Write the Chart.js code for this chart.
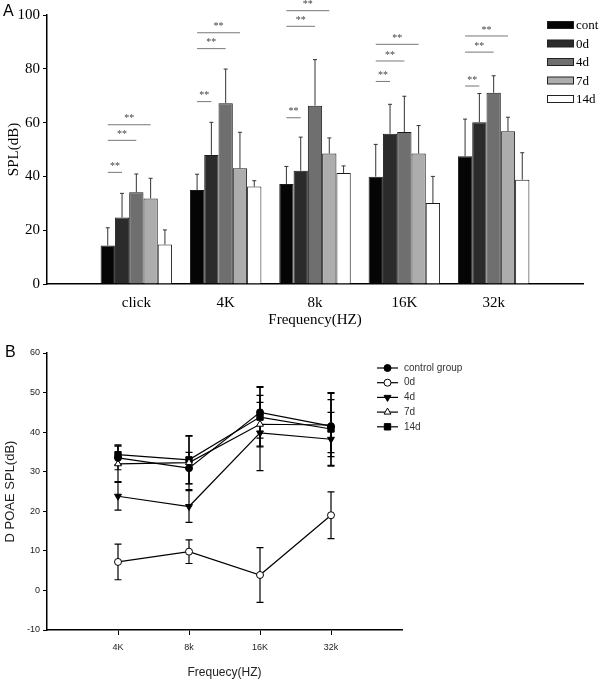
<!DOCTYPE html>
<html>
<head>
<meta charset="utf-8">
<script src="https://cdn.jsdelivr.net/npm/chart.js@4.4.0/dist/chart.umd.min.js"></script>
<style>
  body { margin: 0; background: #fff; width: 600px; height: 689px; position: relative; overflow: hidden; }
  .panel { position: absolute; left: 0; width: 600px; }
  #boxA { top: 0; height: 335px; }
  #boxB { top: 335px; height: 354px; }
  .tag { position: absolute; font: 16px Arial, sans-serif; line-height: 16px; color: #000; }
</style>
</head>
<body>
<div class="panel" id="boxA"><canvas id="chartA"></canvas></div>
<div class="panel" id="boxB"><canvas id="chartB"></canvas></div>
<div class="tag" style="left:3px;top:3px">A</div>
<div class="tag" style="left:5px;top:344px">B</div>
<script>
// ---- panel A: bar chart, SPL(dB) ----
const freqA = ['click', '4K', '8k', '16K', '32k'];
const groupsA = ['cont', '0d', '4d', '7d', '14d'];
const contA = [14.3, 34.9, 37.2, 39.9, 47.5];
const d0A   = [24.7, 48.0, 42.1, 55.9, 60.1];
const d4A   = [34.1, 67.2, 66.3, 56.5, 71.1];
const d7A   = [31.8, 43.0, 48.5, 48.5, 56.8];
const d14A  = [14.7, 36.2, 41.3, 30.1, 38.8];
// upper error bars
const contSdA = [6.6, 5.9, 6.5, 12.0, 13.8];
const d0SdA   = [9.0, 12.1, 12.5, 10.9, 10.7];
const d4SdA   = [6.8, 12.7, 17.1, 13.3, 6.3];
const d7SdA   = [7.5, 13.4, 5.8, 10.4, 5.2];
const d14SdA  = [5.4, 2.2, 2.6, 9.9, 10.0];
// ** lines: cont vs 0d, 4d, 7d (height in dB)
const sigA = [[41.5, 53.4, 59.2], [67.8, 87.5, 93.4], [61.8, 95.8, 101.6], [75.3, 82.9, 89.1], [73.6, 86.2, 92.2]];

// ---- panel B: line chart, DPOAE ----
const freqB = ['4K', '8k', '16K', '32k'];
const groupsB = ['control group', '0d', '4d', '7d', '14d'];
const ctrlB = [33.5, 30.9, 45.0, 41.5];
const d0B   = [7.2, 9.8, 3.9, 19.0];
const d4B   = [23.8, 21.2, 39.8, 38.2];
const d7B   = [32.0, 32.3, 42.0, 41.8];
const d14B  = [34.3, 33.0, 43.8, 40.8];
const ctrlSdB = [3.0, 4.0, 6.5, 6.7];
const d0SdB   = [4.5, 3.0, 6.9, 5.9];
const d4SdB   = [3.5, 4.0, 9.5, 6.8];
const d7SdB   = [4.5, 6.8, 5.5, 8.0];
const d14SdB  = [2.5, 6.0, 7.5, 9.2];

const padEnds = arr => [null, ...arr, null];
const serif = 'Liberation Serif, Times New Roman, serif';
const sans = 'Arial, Liberation Sans, sans-serif';

// chart A
const seriesA = [contA, d0A, d4A, d7A, d14A];
const sdA = [contSdA, d0SdA, d4SdA, d7SdA, d14SdA];
const colorsA = ['#050505', '#2b2b2b', '#6f6f6f', '#adadad', '#ffffff'];

const errorBarsA = {
  id: 'errorBarsA',
  afterDatasetsDraw(chart) {
    const {ctx, scales: {y}} = chart;
    ctx.save();
    ctx.strokeStyle = '#333';
    ctx.lineWidth = 1;
    chart.data.datasets.forEach((ds, k) => {
      chart.getDatasetMeta(k).data.forEach((bar, i) => {
        if (ds.data[i] == null) return;
        const top = y.getPixelForValue(ds.data[i] + ds.sd[i]);
        ctx.beginPath();
        ctx.moveTo(bar.x, bar.y);
        ctx.lineTo(bar.x, top);
        ctx.moveTo(bar.x - 2, top);
        ctx.lineTo(bar.x + 2, top);
        ctx.stroke();
      });
    });
    // significance lines
    ctx.strokeStyle = '#777';
    ctx.fillStyle = '#444';
    ctx.font = '10px ' + serif;
    ctx.textAlign = 'center';
    ctx.textBaseline = 'bottom';
    sigA.forEach((levels, i) => {
      const x0 = chart.getDatasetMeta(0).data[i + 1].x;
      levels.forEach((v, j) => {
        const x1 = chart.getDatasetMeta(j + 1).data[i + 1].x;
        const yy = y.getPixelForValue(v);
        ctx.beginPath();
        ctx.moveTo(x0, yy);
        ctx.lineTo(x1, yy);
        ctx.stroke();
        ctx.fillText('**', (x0 + x1) / 2, yy - 1);
      });
    });
    ctx.restore();
  },
  afterDraw(chart) {
    // legend
    const {ctx} = chart;
    ctx.save();
    ctx.font = '13px ' + serif;
    ctx.textBaseline = 'middle';
    ctx.textAlign = 'left';
    groupsA.forEach((g, k) => {
      const yy = 25 + k * 18.5;
      ctx.fillStyle = colorsA[k];
      ctx.fillRect(547, yy - 3.5, 26, 7);
      ctx.strokeStyle = '#222';
      ctx.lineWidth = 1;
      ctx.strokeRect(547.5, yy - 3.5, 26, 7);
      ctx.fillStyle = '#000';
      ctx.fillText(g, 576, yy + 1);
    });
    ctx.restore();
  }
};

new Chart(document.getElementById('chartA'), {
  type: 'bar',
  data: {
    labels: padEnds(freqA).map(l => l || ''),
    datasets: groupsA.map((g, k) => ({
      label: g,
      data: padEnds(seriesA[k]),
      sd: padEnds(sdA[k]),
      backgroundColor: colorsA[k],
      borderColor: '#1a1a1a',
      borderWidth: 1,
      categoryPercentage: 0.8,
      barPercentage: 1
    }))
  },
  options: {
    responsive: true,
    maintainAspectRatio: false,
    animation: false,
    layout: { padding: { top: 15, right: 17, left: 0, bottom: 0 } },
    plugins: { legend: { display: false }, tooltip: { enabled: false } },
    scales: {
      x: {
        offset: false,
        grid: { display: false, drawTicks: false },
        border: { color: '#000', width: 1.5 },
        ticks: { color: '#000', font: { family: serif, size: 15 }, padding: 10, autoSkip: false, maxRotation: 0 },
        title: { display: true, text: 'Frequency(HZ)', color: '#000', font: { family: serif, size: 15 }, padding: { top: 0, bottom: 6 } },
        afterFit: s => { s.height = 51; }
      },
      y: {
        min: 0, max: 100,
        ticks: { stepSize: 20, color: '#000', font: { family: serif, size: 15 }, padding: 3 },
        grid: { drawOnChartArea: false, drawTicks: true, tickLength: 4, color: '#000' },
        border: { color: '#000', width: 1.5 },
        title: { display: true, text: 'SPL(dB)', color: '#000', font: { family: serif, size: 15 }, padding: { top: 5, bottom: 0 } },
        afterFit: s => { s.width = 47; }
      }
    }
  },
  plugins: [errorBarsA]
});

// chart B
const seriesB = [ctrlB, d0B, d4B, d7B, d14B];
const sdB = [ctrlSdB, d0SdB, d4SdB, d7SdB, d14SdB];
const markB = [
  { style: 'circle', fill: '#000', rot: 0, r: 3.5 },
  { style: 'circle', fill: '#fff', rot: 0, r: 3.5 },
  { style: 'triangle', fill: '#000', rot: 180, r: 4 },
  { style: 'triangle', fill: '#fff', rot: 0, r: 4 },
  { style: 'rect', fill: '#000', rot: 0, r: 4.5 }
];
const labelsB = padEnds(freqB).map(l => l || '');

const errorBarsB = {
  id: 'errorBarsB',
  beforeDatasetsDraw(chart) {
    const {ctx, scales: {y}} = chart;
    ctx.save();
    ctx.strokeStyle = '#000';
    ctx.lineWidth = 1.2;
    chart.data.datasets.forEach((ds, k) => {
      chart.getDatasetMeta(k).data.forEach((pt, i) => {
        if (ds.data[i] == null) return;
        const hi = y.getPixelForValue(ds.data[i] + ds.sd[i]);
        const lo = y.getPixelForValue(ds.data[i] - ds.sd[i]);
        ctx.beginPath();
        ctx.moveTo(pt.x, hi); ctx.lineTo(pt.x, lo);
        ctx.moveTo(pt.x - 3.5, hi); ctx.lineTo(pt.x + 3.5, hi);
        ctx.moveTo(pt.x - 3.5, lo); ctx.lineTo(pt.x + 3.5, lo);
        ctx.stroke();
      });
    });
    ctx.restore();
  },
  afterDraw(chart) {
    const {ctx} = chart;
    ctx.save();
    ctx.font = '10px ' + sans;
    ctx.textBaseline = 'middle';
    groupsB.forEach((g, k) => {
      const yy = 33 + k * 14.7;
      ctx.strokeStyle = '#000';
      ctx.lineWidth = 1.2;
      ctx.beginPath();
      ctx.moveTo(377, yy); ctx.lineTo(398, yy);
      ctx.stroke();
      ctx.fillStyle = markB[k].fill;
      ctx.lineWidth = 1;
      Chart.helpers.drawPoint(ctx, { pointStyle: markB[k].style, radius: markB[k].r, rotation: markB[k].rot, borderWidth: 1 }, 387.5, yy);
      ctx.fillStyle = '#333';
      ctx.fillText(g, 404, yy);
    });
    ctx.restore();
  }
};

new Chart(document.getElementById('chartB'), {
  type: 'line',
  data: {
    labels: labelsB,
    datasets: groupsB.map((g, k) => ({
      label: g,
      data: padEnds(seriesB[k]),
      sd: padEnds(sdB[k]),
      borderColor: '#000',
      borderWidth: 1.2,
      fill: false,
      tension: 0,
      pointStyle: markB[k].style,
      pointRotation: markB[k].rot,
      pointRadius: markB[k].r,
      pointBackgroundColor: markB[k].fill,
      pointBorderColor: '#000',
      pointBorderWidth: 1
    }))
  },
  options: {
    responsive: true,
    maintainAspectRatio: false,
    animation: false,
    layout: { padding: { top: 18, right: 198, left: 0, bottom: 0 } },
    plugins: { legend: { display: false }, tooltip: { enabled: false } },
    scales: {
      x: {
        offset: false,
        grid: {
          drawOnChartArea: false, drawTicks: true, tickLength: 5,
          color: c => (c.index === 0 || c.index === labelsB.length - 1) ? 'rgba(0,0,0,0)' : '#000'
        },
        border: { color: '#000', width: 1.5 },
        ticks: { color: '#222', font: { family: sans, size: 9 }, padding: 7, autoSkip: false, maxRotation: 0 },
        title: { display: true, text: 'Frequecy(HZ)', color: '#222', font: { family: sans, size: 12 }, padding: { top: 0, bottom: 9 } },
        afterFit: s => { s.height = 59; }
      },
      y: {
        min: -10, max: 60,
        ticks: { stepSize: 10, color: '#222', font: { family: sans, size: 9 }, padding: 3 },
        grid: { drawOnChartArea: false, drawTicks: true, tickLength: 4, color: '#000' },
        border: { color: '#000', width: 1.5 },
        title: { display: true, text: 'D POAE SPL(dB)', color: '#222', font: { family: sans, size: 13 }, padding: { top: 3, bottom: 0 } },
        afterFit: s => { s.width = 47; }
      }
    }
  },
  plugins: [errorBarsB]
});
</script>
</body>
</html>
